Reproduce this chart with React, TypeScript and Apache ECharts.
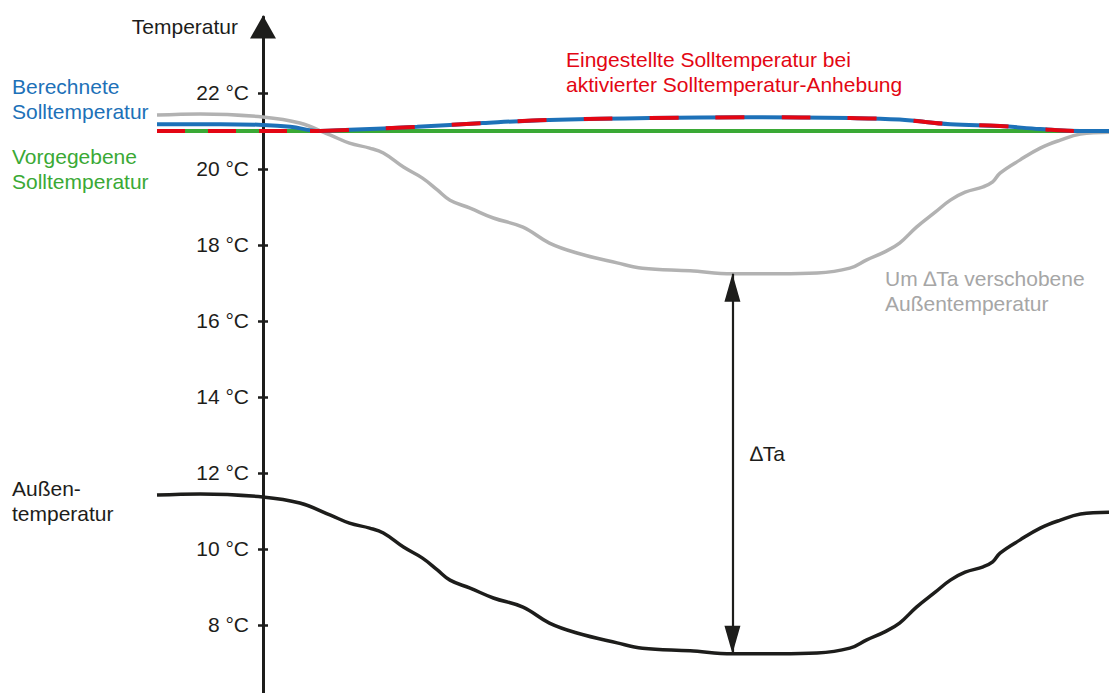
import React, { useEffect, useRef } from "react";
import * as echarts from "echarts";

// y-axis tick values (°C)
const yTicks = [8, 10, 12, 14, 16, 18, 20, 22];
// visible y range (°C): bottom edge of the picture to the arrow end
const yMin = 6.21;
const yMax = 24;
// shift between outside temperature and shifted outside temperature (°C)
const deltaTa = 10;
// x position (time units) of the ΔTa arrow
const deltaArrowX = 44.4;

// Vorgegebene Solltemperatur [x, °C]
const vorgegeben: number[][] = [
  [-10, 21.0],
  [80, 21.0],
];

// Außentemperatur [x, °C]
const aussen: number[][] = [
  [-10, 11.42], [-5.9, 11.45], [0, 11.37], [3.5, 11.21], [6.4, 10.89],
  [8.2, 10.68], [10.1, 10.55], [11.4, 10.42], [13.3, 10.05], [15.1, 9.76],
  [16.5, 9.45], [17.7, 9.18], [19.6, 8.97], [21.8, 8.71], [24.6, 8.47],
  [27.1, 8.05], [29.7, 7.79], [33.5, 7.53], [35.9, 7.39], [40.4, 7.32],
  [44.4, 7.24], [48.9, 7.24], [52.4, 7.26], [55.5, 7.39], [57.1, 7.61],
  [58.8, 7.82], [60.2, 8.05], [61.8, 8.47], [63.6, 8.87], [65.0, 9.18],
  [66.4, 9.39], [68.1, 9.53], [69.0, 9.66], [69.7, 9.89], [71.6, 10.24],
  [73.5, 10.55], [75.4, 10.76], [77.3, 10.92], [80, 10.97],
];

// Berechnete Solltemperatur [x, °C]
const berechnet: number[][] = [
  [-10, 21.18], [-4, 21.18], [0, 21.16], [2.6, 21.11], [5.4, 21.0],
  [8.2, 21.03], [14.6, 21.11], [20.8, 21.21], [27.1, 21.29], [36.6, 21.34],
  [46.1, 21.36], [55.5, 21.34], [60.2, 21.3], [65.0, 21.18], [69.7, 21.13],
  [73.5, 21.05], [77.3, 21.0], [80, 21.0],
];

// Eingestellte Solltemperatur bei aktivierter Anhebung [x, °C]
const eingestellt: number[][] = [
  [-10, 21.0], [0, 21.0], [5.4, 21.0],
  [8.2, 21.03], [14.6, 21.11], [20.8, 21.21], [27.1, 21.29], [36.6, 21.34],
  [46.1, 21.36], [55.5, 21.34], [60.2, 21.3], [65.0, 21.18], [69.7, 21.13],
  [73.5, 21.05], [77.3, 21.0], [80, 21.0],
];
const raiseStartX = 5.4;

const BLACK = "#1d1d1b";
const BLUE = "#1d71b8";
const GREEN = "#3aa935";
const RED = "#e30613";
const GRAY = "#b2b2b2";
const GRAY_TEXT = "#a6a6a6";
const FONT = "Liberation Sans, Arial, sans-serif";

export default function App() {
  const ref = useRef<HTMLDivElement>(null);

  useEffect(() => {
    if (!ref.current) return;
    const chart = echarts.init(ref.current, undefined, { renderer: "svg" });

    const verschoben = aussen.map(([x, t]) => [x, t + deltaTa]);
    const arrowBase = aussen.find((d) => d[0] === deltaArrowX) as number[];
    const redLeft = eingestellt.filter((d) => d[0] <= raiseStartX);
    const redRight = eingestellt.filter((d) => d[0] >= raiseStartX);

    const text = (
      x: number,
      y: number,
      t: string,
      fill: string,
      align: string = "left"
    ) => ({
      type: "text",
      x,
      y,
      z: 100,
      style: {
        text: t,
        fill,
        fontSize: 21,
        fontFamily: FONT,
        lineHeight: 25,
        align,
        verticalAlign: "top",
      },
    });

    chart.setOption({
      animation: false,
      grid: { left: 157, right: 0, top: 17, bottom: 0, containLabel: false },
      xAxis: { type: "value", min: -10, max: 80, show: false },
      yAxis: [
        {
          type: "value",
          min: yMin,
          max: yMax,
          position: "left",
          offset: -106,
          axisLine: {
            show: true,
            onZero: false,
            symbol: ["none", "triangle"],
            symbolSize: [26, 23],
            symbolOffset: [0, -10],
            lineStyle: { color: BLACK, width: 3 },
          },
          axisTick: {
            show: true,
            length: 5,
            customValues: yTicks,
            lineStyle: { color: BLACK, width: 2.5 },
          },
          axisLabel: {
            show: true,
            customValues: yTicks,
            formatter: (v: number) => `${v} °C`,
            color: BLACK,
            fontSize: 21,
            fontFamily: FONT,
            margin: 14,
          },
          splitLine: { show: false },
        },
        {
          type: "value",
          min: yMin,
          max: yMax,
          position: "right",
          offset: -846,
          axisLine: { show: false, onZero: false },
          axisTick: {
            show: true,
            length: 5,
            customValues: yTicks,
            lineStyle: { color: BLACK, width: 2.5 },
          },
          axisLabel: { show: false },
          splitLine: { show: false },
        },
      ],
      series: [
        {
          name: "Um ΔTa verschobene Außentemperatur",
          type: "line",
          data: verschoben,
          smooth: 0.4,
          showSymbol: false,
          lineStyle: { color: GRAY, width: 3.5 },
          z: 2,
        },
        {
          name: "Vorgegebene Solltemperatur",
          type: "line",
          data: vorgegeben,
          showSymbol: false,
          lineStyle: { color: GREEN, width: 4 },
          z: 3,
        },
        {
          name: "Berechnete Solltemperatur",
          type: "line",
          data: berechnet,
          smooth: 0.4,
          showSymbol: false,
          lineStyle: { color: BLUE, width: 4 },
          z: 4,
        },
        {
          name: "Eingestellte Solltemperatur (links)",
          type: "line",
          data: redLeft,
          showSymbol: false,
          lineStyle: { color: RED, width: 4, type: [28, 23] },
          z: 5,
        },
        {
          name: "Eingestellte Solltemperatur",
          type: "line",
          data: redRight,
          smooth: 0.4,
          showSymbol: false,
          lineStyle: { color: RED, width: 4, type: [29, 37] },
          z: 5,
        },
        {
          name: "Außentemperatur",
          type: "line",
          data: aussen,
          smooth: 0.4,
          showSymbol: false,
          lineStyle: { color: BLACK, width: 3.5 },
          z: 6,
          markLine: {
            silent: true,
            symbol: ["triangle", "triangle"],
            symbolSize: [16, 28],
            symbolOffset: [
              [0, 14],
              [0, 14],
            ],
            label: { show: false },
            lineStyle: { color: BLACK, width: 2.2, type: "solid" },
            data: [
              [
                { coord: [arrowBase[0], arrowBase[1]] },
                { coord: [arrowBase[0], arrowBase[1] + deltaTa] },
              ],
            ],
          },
        },
      ],
      graphic: [
        text(238, 13.5, "Temperatur", BLACK, "right"),
        text(12, 73.5, "Berechnete\nSolltemperatur", BLUE),
        text(12, 143.5, "Vorgegebene\nSolltemperatur", GREEN),
        text(
          566,
          46.5,
          "Eingestellte Solltemperatur bei\naktivierter Solltemperatur-Anhebung",
          RED
        ),
        text(885, 265.5, "Um ∆Ta verschobene\nAußentemperatur", GRAY_TEXT),
        text(750, 440.5, "∆Ta", BLACK),
        text(12, 475.5, "Außen-\ntemperatur", BLACK),
      ],
    });

    return () => chart.dispose();
  }, []);

  return (
    <div
      ref={ref}
      style={{
        position: "fixed",
        left: 0,
        top: 0,
        width: 1109,
        height: 693,
        background: "#ffffff",
      }}
    />
  );
}
